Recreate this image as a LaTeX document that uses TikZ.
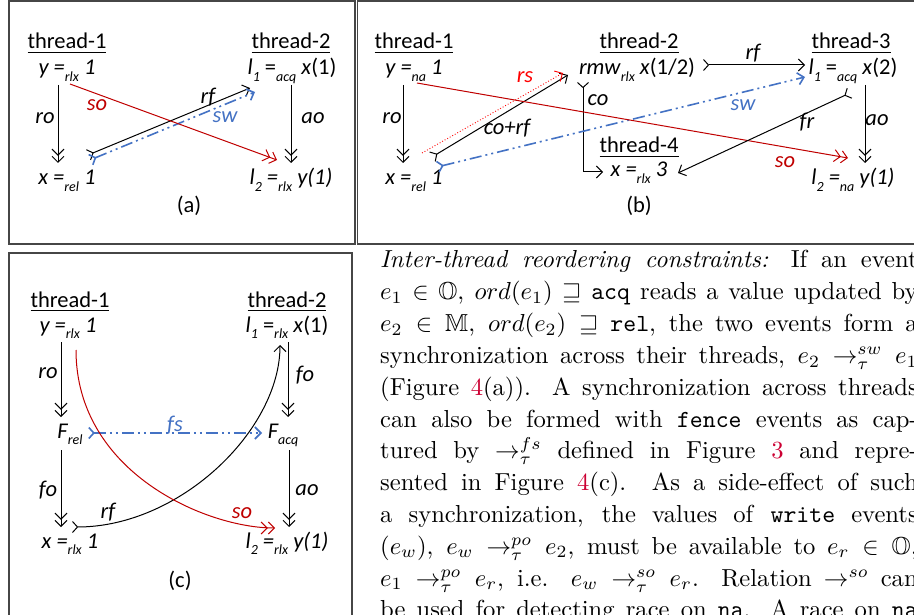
\documentclass[tikz,border=0pt]{standalone}
\usepackage{fontspec}
\usepackage{amssymb}
\usepackage{graphicx}
\usetikzlibrary{arrows.meta,calc}
\newfontfamily\clb{Carlito}
\definecolor{soRed}{RGB}{192,0,0}
\definecolor{rsRed}{RGB}{255,0,0}
\definecolor{swBlue}{RGB}{68,114,196}
\definecolor{boxGray}{RGB}{70,70,70}
\definecolor{refRed}{RGB}{204,0,51}
\newcommand\sbs[1]{\raisebox{-0.28em}{\fontsize{14}{14}\selectfont\itshape #1}}
\newcommand\thr[1]{\underline{#1}}
\newcommand\txl[1]{\scalebox{2.46}{\makebox[218.5pt][s]{#1}}}
\newcommand\rref[1]{\textcolor{refRed}{#1}}
\begin{document}
\begin{tikzpicture}[x=1pt,y=-1pt,
  ev/.style={font=\clb\fontsize{22.5}{24}\selectfont, inner sep=1pt, anchor=base},
  lab/.style={font=\clb\itshape\fontsize{22.5}{24}\selectfont, inner sep=0pt},
  boxline/.style={draw=boxGray, line width=1.3pt},
  con/.style={line width=1pt},
  hd/.style={-{Straight Barb[length=6pt,width=12pt]}},
  dhd/.style={-{Straight Barb[length=6pt,width=12pt] Straight Barb[length=6pt,width=12pt]}},
  thd/.style={{Straight Barb[reversed,length=5pt,width=11pt]}-{Straight Barb[length=6pt,width=12pt]}},
  swline/.style={draw=swBlue, line width=1.6pt, dash pattern=on 12pt off 4pt on 2pt off 4pt on 2pt off 4pt},
  txt/.style={anchor=base west, inner sep=0pt}
]
\useasboundingbox (0,0) rectangle (914,615);
\clip (0,0) rectangle (914,615);
\fill[white] (0,0) rectangle (914,615);
% boxes
\draw[boxline] (9,1) rectangle (355,244);
\draw[boxline] (357.5,1) rectangle (930,244);
\draw[boxline] (9,253) rectangle (352,640);

% ---------------- (a)
\node[ev] (t1a) at (67,49) {\thr{thread-1}};
\node[ev] (a1) at (67,75) {\itshape y =\sbs{rlx} 1};
\node[ev] (a2) at (67,185) {\itshape x =\sbs{rel} 1};
\node[ev] (t2a) at (291,49) {\thr{thread-2}};
\node[ev] (a3) at (292,75) {\textit{l}\sbs{1} =\sbs{acq} \textit{x}(1)};
\node[ev] (a4) at (291,185) {\itshape l\sbs{2} =\sbs{rlx} y(1)};
\node[ev] (capa) at (189,213) {(a)};
\draw[con,dhd] ($(a1.base)+(-9,10)$) -- ($(a2.base)+(-9,-22)$);
\draw[con,dhd] ($(a3.base)+(-1,10)$) -- ($(a4.base)+(0,-22)$);
\draw[con,thd] ($(a2.base)+(21,-30)$) -- ($(a3.base)+(-42,13)$);
\draw[swline,thd] ($(a2.base)+(23,-25)$) -- ($(a3.base)+(-37,17)$);
\draw[con,soRed,dhd] ($(a1.base)+(3,9)$) -- ($(a4.base)+(-14,-25)$);
\node[lab] (la1) at (45,118) {ro};
\node[lab] (la2) at (313,118) {ao};
\node[lab] (la3) at (208,97) {rf};
\node[lab,text=swBlue] (la4) at (225,117) {sw};
\node[lab,text=soRed] (la5) at (97,105) {so};

% ---------------- (b)
\node[ev] (t1b) at (414,49) {\thr{thread-1}};
\node[ev] (b1) at (414,75) {\itshape y =\sbs{na} 1};
\node[ev] (b2) at (414,185) {\itshape x =\sbs{rel} 1};
\node[ev] (t2b) at (639,49) {\thr{thread-2}};
\node[ev] (b3) at (637,75) {\textit{rmw}\sbs{rlx} \textit{x}(1/2)};
\node[ev] (t3b) at (851,49) {\thr{thread-3}};
\node[ev] (b4) at (853,75) {\textit{l}\sbs{1} =\sbs{acq} \textit{x}(2)};
\node[ev] (t4b) at (639,153) {\thr{thread-4}};
\node[ev] (b5) at (639,177) {\itshape x =\sbs{rlx} 3};
\node[ev] (b6) at (853,185) {\itshape l\sbs{2} =\sbs{na} y(1)};
\node[ev] (capb) at (639,213) {(b)};
\draw[con,dhd] ($(b1.base)+(-11,10)$) -- ($(b2.base)+(-11,-22)$);
\draw[con,dhd] ($(b4.base)+(12,10)$) -- ($(b6.base)+(12,-22)$);
\draw[con,thd] ($(b3.base)+(66,-10)$) -- ($(b4.base)+(-48,-10)$);
\draw[con,thd] ($(b3.base)+(-54,7)$) |- ($(b5.base)+(-36,-5)$);
\draw[con,thd] ($(b2.base)+(18,-28)$) -- ($(b3.base)+(-69,0)$);
\draw[line width=0.9pt,rsRed,dotted,hd] ($(b2.base)+(8,-32)$) -- ($(b3.base)+(-74,-2)$);
\draw[swline,thd] ($(b2.base)+(23,-18)$) -- ($(b4.base)+(-48,2)$);
\draw[con,soRed,dhd] ($(b1.base)+(3,8)$) -- ($(b6.base)+(-5,-27)$);
\draw[con,thd] ($(b4.base)+(-3,18)$) -- ($(b5.base)+(39,-4)$);
\node[lab] (lb1) at (392,118) {ro};
\node[lab] (lb2) at (877,120) {ao};
\node[lab] (lb3) at (753,53) {rf};
\node[lab] (lb4) at (598,100) {co};
\node[lab] (lb5) at (507,128) {co+rf};
\node[lab,text=rsRed] (lb6) at (525,77) {rs};
\node[lab,text=swBlue] (lb7) at (743,105) {sw};
\node[lab] (lb8) at (807,122) {fr};
\node[lab,text=soRed] (lb9) at (785,162) {so};

% ---------------- (c)
\node[ev] (t1c) at (70,307) {\thr{thread-1}};
\node[ev] (c1) at (68,332) {\itshape y =\sbs{rlx} 1};
\node[ev] (c2) at (70,438) {\itshape F\sbs{rel}};
\node[ev] (c3) at (70,548) {\itshape x =\sbs{rlx} 1};
\node[ev] (t2c) at (287,307) {\thr{thread-2}};
\node[ev] (c4) at (287,332) {\textit{l}\sbs{1} =\sbs{rlx} \textit{x}(1)};
\node[ev] (c5) at (283,438) {\itshape F\sbs{acq}};
\node[ev] (c6) at (287,548) {\itshape l\sbs{2} =\sbs{rlx} y(1)};
\node[ev] (capc) at (180,587) {(c)};
\draw[con,dhd] ($(c1.base)+(-7,10)$) -- ($(c2.base)+(-9,-21)$);
\draw[con,dhd] ($(c4.base)+(1,10)$) -- ($(c5.base)+(5,-21)$);
\draw[con,dhd] ($(c2.base)+(-9,12)$) -- ($(c3.base)+(-9,-21)$);
\draw[con,dhd] ($(c5.base)+(6,12)$) -- ($(c6.base)+(2,-21)$);
\draw[swline,thd] ($(c2.base)+(18,-5)$) -- ($(c5.base)+(-21,-5)$);
\draw[con,thd] ($(c3.base)+(2,-21)$) .. controls +(108,0) and +(0,85) .. ($(c4.base)+(-7,13)$);
\draw[con,soRed,dhd] ($(c1.base)+(8,18)$) .. controls +(0,123) and +(-68,0) .. ($(c6.base)+(-12,-20)$);
\node[lab] (lc1) at (48,373) {ro};
\node[lab] (lc2) at (305,375) {fo};
\node[lab,text=swBlue] (lc3) at (175,425) {fs};
\node[lab] (lc4) at (48,490) {fo};
\node[lab] (lc5) at (307,490) {ao};
\node[lab] (lc6) at (108,512) {rf};
\node[lab,text=soRed] (lc7) at (242,513) {so};

% ---------------- text column
\node[txt] (p1) at (380,268.0) {\txl{\textit{Inter-thread reordering constraints:} If an event}};
\node[txt] (p2) at (380,299.8) {\txl{$e_1 \in \mathbb{O}$, $ord(e_1) \sqsupseteq$ \texttt{acq} reads a value updated by}};
\node[txt] (p3) at (380,331.6) {\txl{$e_2 \in \mathbb{M}$, $ord(e_2) \sqsupseteq$ \texttt{rel}, the two events form a}};
\node[txt] (p4) at (380,363.4) {\txl{synchronization across their threads, $e_2 \rightarrow^{sw}_{\tau} e_1$}};
\node[txt] (p5) at (380,395.2) {\txl{(Figure \rref{4}(a)). A synchronization across threads}};
\node[txt] (p6) at (380,427.0) {\txl{can also be formed with \texttt{fence} events as cap-}};
\node[txt] (p7) at (380,458.8) {\txl{tured by $\rightarrow^{fs}_{\tau}$ defined in Figure \rref{3} and repre-}};
\node[txt] (p8) at (380,490.6) {\txl{sented in Figure \rref{4}(c). As a side-effect of such}};
\node[txt] (p9) at (380,522.4) {\txl{a synchronization, the values of \texttt{write} events}};
\node[txt] (p10) at (380,554.2) {\txl{$(e_w)$, $e_w \rightarrow^{po}_{\tau} e_2$, must be available to $e_r \in \mathbb{O}$,}};
\node[txt] (p11) at (380,586.0) {\txl{$e_1 \rightarrow^{po}_{\tau} e_r$, i.e. $e_w \rightarrow^{so}_{\tau} e_r$. Relation $\rightarrow^{so}$ can}};
\node[txt] (p12) at (380,617.8) {\txl{be used for detecting race on \texttt{na}. A race on \texttt{na}}};
\end{tikzpicture}
\end{document}
